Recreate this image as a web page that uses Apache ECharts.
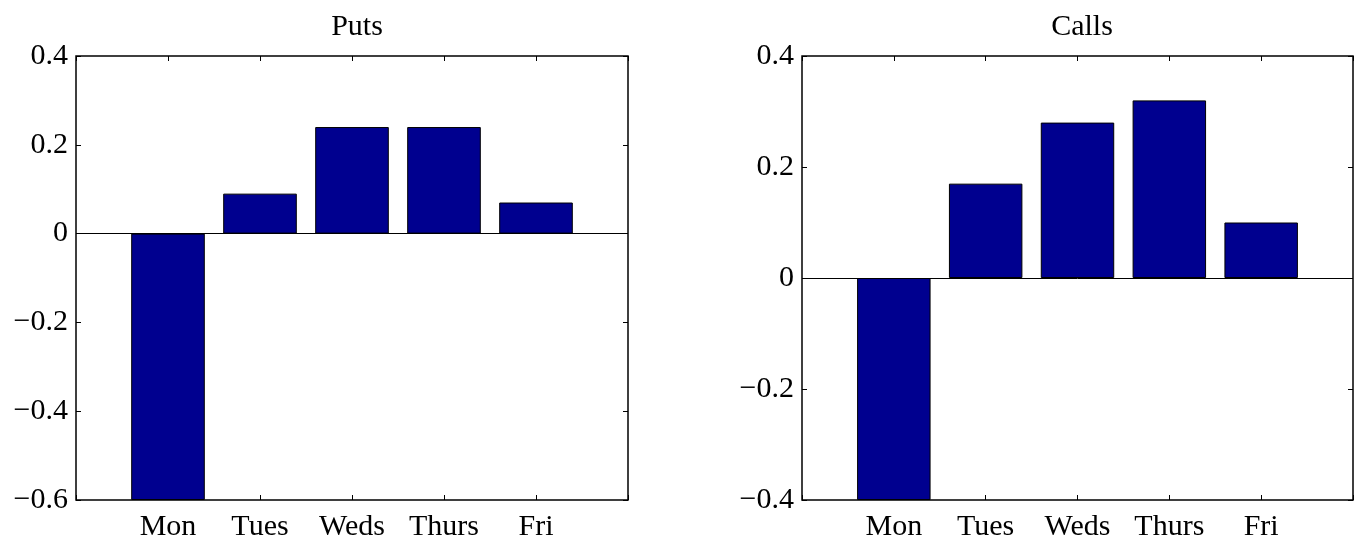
<!DOCTYPE html>
<html>
<head>
<meta charset="utf-8">
<script src="https://cdn.jsdelivr.net/npm/echarts@6/dist/echarts.min.js"></script>
<style>
  html, body { margin: 0; padding: 0; background: #fff; }
  #chart { width: 1364px; height: 550px; }
</style>
</head>
<body>
<div id="chart"></div>
<script>
// Categories (padded with empty slots so bars sit at positions 1..5 of a 0..6 range)
const days = ['', 'Mon', 'Tues', 'Weds', 'Thurs', 'Fri', ''];
// Series values
const putsValues  = [null, -0.60, 0.09, 0.24, 0.24, 0.07, null];
const callsValues = [null, -0.40, 0.17, 0.28, 0.32, 0.10, null];
// Axis ranges / tick labels
const titles = ['Puts', 'Calls'];
const putsY  = { min: -0.6, max: 0.4, interval: 0.2 };
const callsY = { min: -0.4, max: 0.4, interval: 0.2 };

const FONT = 'Liberation Serif';
const FS = 30;
const BAR = '#00008f';

function fmtY(v) {
  const r = Math.round(v * 10) / 10;
  if (r === 0) return '0';
  return (r < 0 ? '\u2212' : '') + Math.abs(r).toFixed(1);
}

const chart = echarts.init(document.getElementById('chart'), null, { renderer: 'canvas' });

const grids = [
  { left: 76, right: 736, top: 56, bottom: 50, show: true, borderColor: '#000', borderWidth: 1.5, backgroundColor: 'transparent' },
  { left: 802, right: 11, top: 56, bottom: 50, show: true, borderColor: '#000', borderWidth: 1.5, backgroundColor: 'transparent' }
];

function xAxes(gi) {
  return [
    {
      type: 'category', gridIndex: gi, data: days, boundaryGap: false, position: 'bottom',
      axisLine: { show: false, onZero: false },
      axisTick: { show: true, inside: true, length: 5, lineStyle: { color: '#000' } },
      axisLabel: { show: true, color: '#000', fontFamily: FONT, fontSize: FS, margin: 12, interval: 0 },
      splitLine: { show: false }
    },
    {
      type: 'category', gridIndex: gi, data: days, boundaryGap: false, position: 'top',
      axisLine: { show: false, onZero: false },
      axisTick: { show: true, inside: true, length: 5, lineStyle: { color: '#000' } },
      axisLabel: { show: false },
      splitLine: { show: false }
    }
  ];
}

function yAxes(gi, rng) {
  return [
    {
      type: 'value', gridIndex: gi, position: 'left', min: rng.min, max: rng.max, interval: rng.interval,
      axisLine: { show: false },
      axisTick: { show: true, inside: true, length: 5, lineStyle: { color: '#000' } },
      axisLabel: { show: true, color: '#000', fontFamily: FONT, fontSize: FS, margin: 8, formatter: fmtY },
      splitLine: { show: false }
    },
    {
      type: 'value', gridIndex: gi, position: 'right', min: rng.min, max: rng.max, interval: rng.interval,
      axisLine: { show: false },
      axisTick: { show: true, inside: true, length: 5, lineStyle: { color: '#000' } },
      axisLabel: { show: false },
      splitLine: { show: false }
    }
  ];
}

function barSeries(xi, yi, data) {
  return {
    type: 'bar', xAxisIndex: xi, yAxisIndex: yi, data: data,
    barWidth: '80%',
    itemStyle: { color: BAR, borderColor: '#000', borderWidth: 1 },
    animation: false,
    markLine: {
      silent: true, symbol: ['none', 'none'], label: { show: false },
      lineStyle: { color: '#000', width: 1, type: 'solid' },
      data: [{ yAxis: 0 }],
      animation: false
    }
  };
}

const option = {
  backgroundColor: '#fff',
  animation: false,
  title: [
    { text: titles[0], left: 352, top: 7, textAlign: 'center',
      textStyle: { fontFamily: FONT, fontSize: FS, fontWeight: 'normal', color: '#000' } },
    { text: titles[1], left: 1077, top: 7, textAlign: 'center',
      textStyle: { fontFamily: FONT, fontSize: FS, fontWeight: 'normal', color: '#000' } }
  ],
  grid: grids,
  xAxis: [...xAxes(0), ...xAxes(1)],
  yAxis: [...yAxes(0, putsY), ...yAxes(1, callsY)],
  series: [
    barSeries(0, 0, putsValues),
    barSeries(2, 2, callsValues)
  ]
};

chart.setOption(option);
</script>
</body>
</html>
